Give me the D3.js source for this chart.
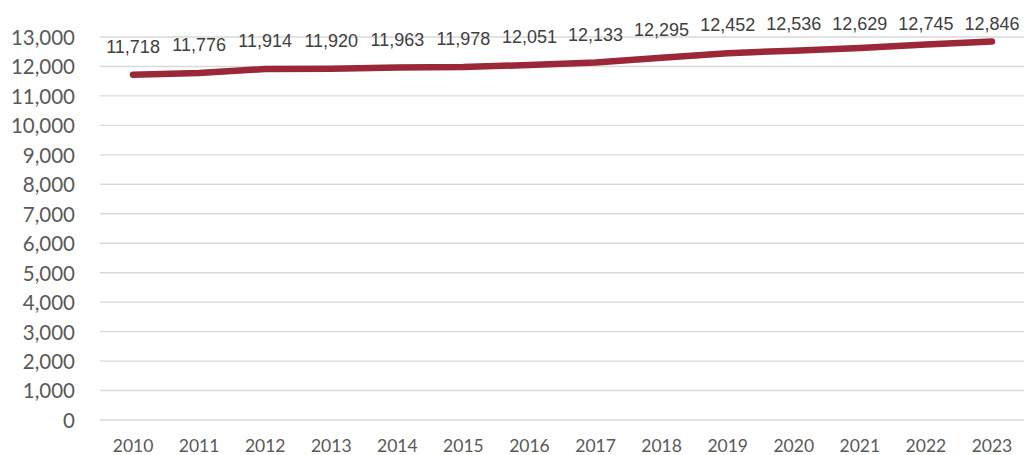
<!DOCTYPE html>
<html>
<head>
<meta charset="utf-8">
<script src="https://cdn.jsdelivr.net/npm/d3@7"></script>
<style>
  html, body { margin: 0; padding: 0; background: #ffffff; }
  svg { display: block; }
</style>
</head>
<body>
<svg id="chart" width="1024" height="455"></svg>
<script>
const years = ["2010","2011","2012","2013","2014","2015","2016","2017","2018","2019","2020","2021","2022","2023"];
const values = [11718, 11776, 11914, 11920, 11963, 11978, 12051, 12133, 12295, 12452, 12536, 12629, 12745, 12846];
const yTicks = [0,1000,2000,3000,4000,5000,6000,7000,8000,9000,10000,11000,12000,13000];

(function () {
const svg = d3.select("#chart");
const plotLeft = 100, plotRight = 1025, plotTop = 37, plotBottom = 420;

const x = d3.scaleBand().domain(years).range([plotLeft, plotRight]);
const y = d3.scaleLinear().domain([0, 13000]).range([plotBottom, plotTop]);
const fmt = d3.format(",");

// gridlines
svg.append("g")
  .selectAll("line")
  .data(yTicks)
  .join("line")
  .attr("x1", plotLeft).attr("x2", 1024)
  .attr("y1", d => y(d)).attr("y2", d => y(d))
  .attr("stroke", "#d9d9d9")
  .attr("stroke-width", 1.4);

// y axis labels
const yAxis = d3.axisLeft(y).tickValues(yTicks).tickFormat(fmt).tickSize(0).tickPadding(0);
const yg = svg.append("g").attr("transform", "translate(75,0)").call(yAxis);
yg.select(".domain").remove();
yg.selectAll("text")
  .attr("font-family", "Lato, 'Open Sans', sans-serif")
  .attr("font-size", "20.5px")
  .attr("fill", "#595959")
  .attr("dy", "0.36em");

// x axis labels
const xAxis = d3.axisBottom(x).tickSize(0).tickPadding(0);
const xg = svg.append("g").attr("transform", "translate(0,440)").call(xAxis);
xg.select(".domain").remove();
xg.selectAll("text")
  .attr("font-family", "Lato, 'Open Sans', sans-serif")
  .attr("font-size", "17.5px")
  .attr("fill", "#595959")
  .attr("dy", "0.7em");

// line
const line = d3.line()
  .x((d, i) => x(years[i]) + x.bandwidth() / 2)
  .y(d => y(d));

svg.append("path")
  .datum(values)
  .attr("d", line)
  .attr("fill", "none")
  .attr("stroke", "#9b2738")
  .attr("stroke-width", 6.5)
  .attr("stroke-linecap", "round")
  .attr("stroke-linejoin", "round");

// data labels
svg.append("g")
  .selectAll("text")
  .data(values)
  .join("text")
  .attr("x", (d, i) => x(years[i]) + x.bandwidth() / 2)
  .attr("y", d => Math.max(30, y(d) - 22))
  .attr("text-anchor", "middle")
  .attr("font-family", "'Liberation Sans', Arial, sans-serif")
  .attr("font-size", "18px")
  .attr("fill", "#404040")
  .text(d => fmt(d));
})();
</script>
</body>
</html>
